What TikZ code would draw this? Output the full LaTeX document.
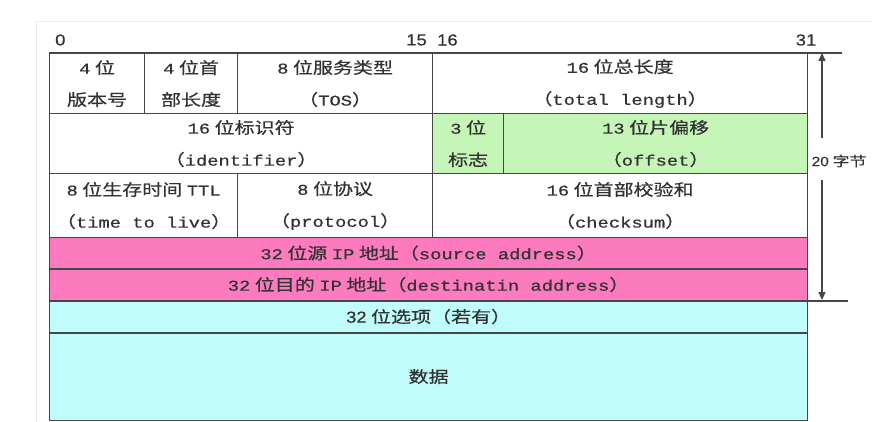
\documentclass[tikz,border=0pt]{standalone}
\usepackage{fontspec}
\setmonofont{Liberation Mono}[FakeStretch=1.25,Scale=0.94,FakeBold=0.6]
\newfontfamily\cjk{Noto Sans CJK SC}[FakeStretch=1.25,FakeBold=0.5]
\newfontfamily\numfont{Liberation Sans}[FakeStretch=1.15,FakeBold=0.4]
\newcommand\mono[1]{{\ttfamily #1}}
\usetikzlibrary{arrows.meta}

\definecolor{linec}{RGB}{70,70,70}
\definecolor{textc}{RGB}{50,50,50}
\definecolor{pinkc}{RGB}{252,122,190}
\definecolor{greenc}{RGB}{197,246,183}
\definecolor{cyanc}{RGB}{192,252,252}
\definecolor{framec}{RGB}{236,236,236}

\tikzset{
  field/.style={draw=linec, line width=1.2pt, anchor=north west, inner sep=0pt,
    align=center, text=textc, font=\fontsize{16}{32}\selectfont\cjk},
  bitno/.style={text=textc, inner sep=0pt, font=\fontsize{16}{18}\selectfont\numfont},
  rule/.style={draw=linec, line width=1.8pt},
  dimarrow/.style={-{Triangle[length=8pt,width=7pt]}, draw=linec, line width=1.2pt}
}

\begin{document}
\begin{tikzpicture}[x=1pt,y=-1pt]
  \useasboundingbox (0,0) rectangle (889,422);
  \draw[framec, line width=1pt] (36,422) -- (36,22) -- (873,22);

  % bit numbers
  \node[bitno, anchor=west] (b0) at (55,40) {0};
  \node[bitno, anchor=east] (b15) at (427,40) {15};
  \node[bitno, anchor=west] (b16) at (437,40) {16};
  \node[bitno] (b31) at (806,40) {31};

  % header fields
  \foreach \nm/\xa/\ya/\xb/\yb/\col/\txt
    [evaluate=\xb as \w using \xb-\xa, evaluate=\yb as \h using \yb-\ya] in {
      ver/49/53/144/113/white/{\mono{4} 位\\版本号},
      hlen/144/53/237/113/white/{\mono{4} 位首\\部长度},
      tos/237/53/432/113/white/{\mono{8} 位服务类型\\（\mono{TOS}）},
      tlen/432/53/807/113/white/{\mono{16} 位总长度\\（\mono{total length}）},
      ident/49/113/432/173/white/{\mono{16} 位标识符\\（\mono{identifier}）},
      flag/432/113/503/173/greenc/{\mono{3} 位\\标志},
      offs/503/113/807/173/greenc/{\mono{13} 位片偏移\\（\mono{offset}）},
      ttl/49/173/237/237/white/{\mono{8} 位生存时间 \mono{TTL}\\（\mono{time to live}）},
      proto/237/173/432/237/white/{\mono{8} 位协议\\（\mono{protocol}）},
      csum/432/173/807/237/white/{\mono{16} 位首部校验和\\（\mono{checksum}）},
      src/49/237/807/268/pinkc/{\mono{32} 位源 \mono{IP} 地址（\mono{source address}）},
      dst/49/268/807/300/pinkc/{\mono{32} 位目的 \mono{IP} 地址（\mono{destinatin address}）},
      opt/49/300/807/332/cyanc/{{\numfont 32} 位选项（若有）},
      data/49/332/807/420/cyanc/{数据}} {
    \node[field, fill=\col, minimum width=\w pt, minimum height=\h pt] (\nm) at (\xa,\ya) {\txt};
  }
  \draw[rule] (src.south west) -- (src.south east);
  \draw[rule] (opt.south west) -- (opt.south east);

  % 20 byte header length
  \coordinate (topA) at (822,53);
  \coordinate (botA) at (822,300);
  \coordinate (topR) at (842,53);
  \coordinate (botR) at (848,300);
  \draw[rule] (ver.north west) -- (ver.north west -| topR);
  \draw[rule] (dst.south west) -- (dst.south west -| botR);
  \node[text=textc, inner sep=0pt, font=\fontsize{13.5}{15}\selectfont\cjk] (len) at (839,161) {{\numfont 20} 字节};
  \draw[dimarrow, shorten <=17pt] (len.north -| topA) -- (topA);
  \draw[dimarrow, shorten <=13pt] (len.south -| botA) -- (botA);
\end{tikzpicture}
\end{document}
